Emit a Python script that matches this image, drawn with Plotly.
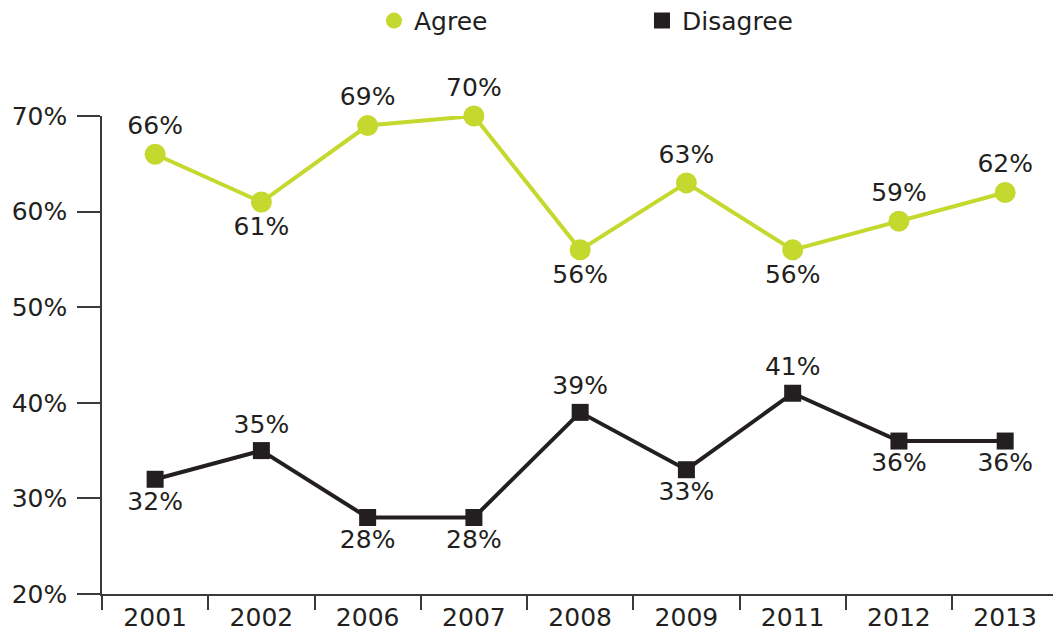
import plotly.graph_objects as go

years = ["2001", "2002", "2006", "2007", "2008", "2009", "2011", "2012", "2013"]
agree = [66, 61, 69, 70, 56, 63, 56, 59, 62]
disagree = [32, 35, 28, 28, 39, 33, 41, 36, 36]
agree_pos = ["top center", "bottom center", "top center", "top center", "bottom center",
             "top center", "bottom center", "top center", "top center"]
disagree_pos = ["bottom center", "top center", "bottom center", "bottom center", "top center",
                "bottom center", "top center", "bottom center", "bottom center"]
y_ticks = [20, 30, 40, 50, 60, 70]

GREEN = "#c5d82e"
DARK = "#231f20"
FONT = "DejaVu Sans"
FS = 25

fig = go.Figure()

fig.add_trace(go.Scatter(
    x=years, y=agree, mode="lines+markers+text",
    line=dict(color=GREEN, width=4),
    marker=dict(symbol="circle", size=21, color=GREEN),
    text=[f"{v}%" for v in agree], textposition=agree_pos,
    textfont=dict(family=FONT, size=FS, color=DARK),
    cliponaxis=False, showlegend=False,
))
fig.add_trace(go.Scatter(
    x=years, y=disagree, mode="lines+markers+text",
    line=dict(color=DARK, width=4),
    marker=dict(symbol="square", size=17, color=DARK),
    text=[f"{v}%" for v in disagree], textposition=disagree_pos,
    textfont=dict(family=FONT, size=FS, color=DARK),
    cliponaxis=False, showlegend=False,
))

# legend entries show only the marker symbol
fig.add_trace(go.Scatter(x=[None], y=[None], mode="markers", name="Agree",
                         marker=dict(symbol="circle", size=21, color=GREEN)))
fig.add_trace(go.Scatter(x=[None], y=[None], mode="markers", name="Disagree",
                         marker=dict(symbol="square", size=17, color=DARK)))

fig.update_layout(
    width=1053, height=631,
    margin=dict(l=102, r=0, t=116, b=37, autoexpand=False),
    paper_bgcolor="white", plot_bgcolor="white",
    font=dict(family=FONT, size=FS, color=DARK),
    legend=dict(
        orientation="h", x=0.286, xanchor="left",
        yref="container", y=0.967, yanchor="middle",
        entrywidth=223, entrywidthmode="pixels",
        font=dict(family=FONT, size=FS, color=DARK),
    ),
    xaxis=dict(
        type="category", range=[-0.5, 8.45],
        showline=True, linecolor="#3a3a3a", linewidth=1.5,
        ticks="outside", tickson="boundaries", ticklen=14, tickcolor="#3a3a3a", tickwidth=1.5,
        showgrid=False, zeroline=False,
        tickfont=dict(family=FONT, size=FS, color=DARK),
    ),
    yaxis=dict(
        range=[20, 70], tickvals=y_ticks, ticktext=[f"{v}%" for v in y_ticks],
        showline=True, linecolor="#3a3a3a", linewidth=1.5,
        ticks="outside", ticklen=23, tickcolor="#3a3a3a", tickwidth=1.5,
        ticklabelstandoff=5,
        showgrid=False, zeroline=False,
        tickfont=dict(family=FONT, size=FS, color=DARK),
    ),
)

fig.write_html("out.html")
